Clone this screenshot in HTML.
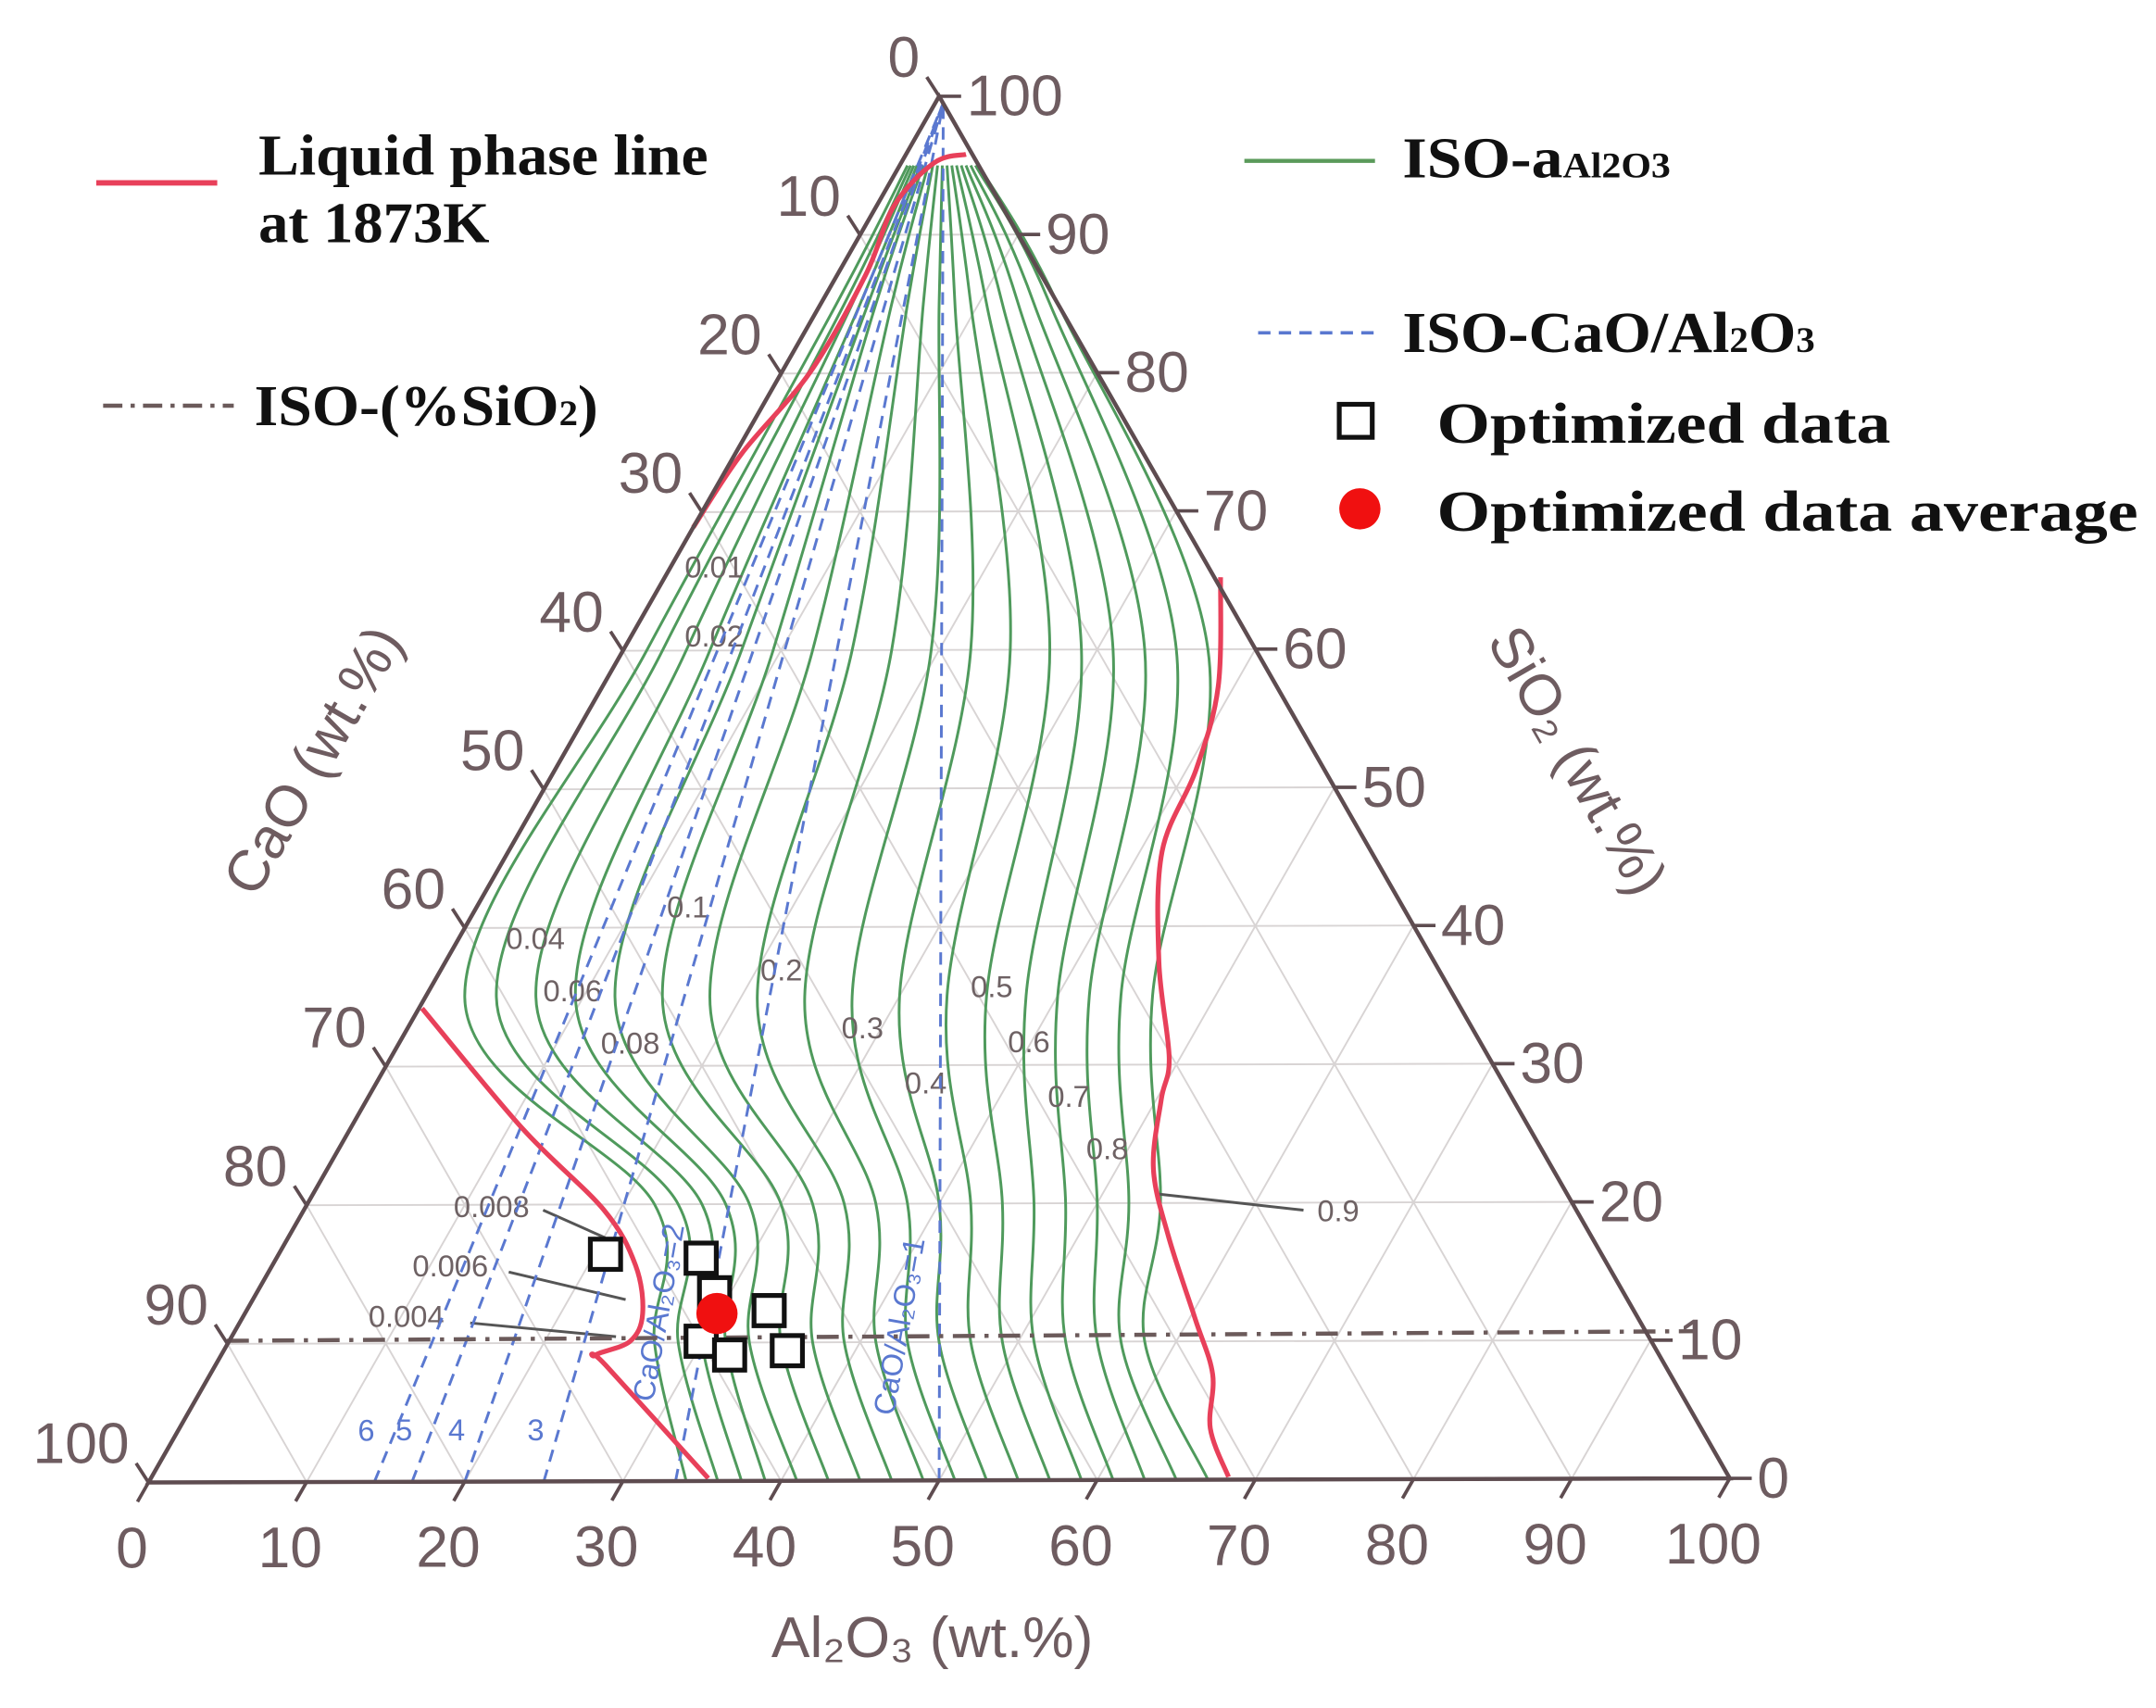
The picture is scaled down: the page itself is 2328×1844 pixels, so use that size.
<!DOCTYPE html>
<html><head><meta charset="utf-8"><style>
html,body{margin:0;padding:0;background:#fff;}
svg{display:block;}
.ax{font-family:"Liberation Sans",sans-serif;fill:#6e5c60;font-size:42px;}
.lg{font-family:"Liberation Serif",serif;font-weight:bold;fill:#111;font-size:42px;}
.cl{font-family:"Liberation Sans",sans-serif;fill:#6e6264;font-size:22px;}
.bl{font-family:"Liberation Sans",sans-serif;fill:#5a78d0;font-size:22px;}
</style></head><body>
<svg id="chart" width="2328" height="1844" viewBox="0 0 1568 1242" preserveAspectRatio="none" xmlns="http://www.w3.org/2000/svg">
<g id="grid"></g>
<g id="green"></g>
<g id="blue"></g>
<g id="red"></g>
<g id="axes"></g>
<g id="pts"></g>
<g id="legend">
  <line x1="70" y1="133" x2="158" y2="133" stroke="#e8405a" stroke-width="4"/>
  <text class="lg" x="188" y="127" textLength="327" lengthAdjust="spacingAndGlyphs">Liquid phase line</text>
  <text class="lg" x="188" y="176" textLength="168" lengthAdjust="spacingAndGlyphs">at 1873K</text>
  <line x1="905" y1="117" x2="1000" y2="117" stroke="#5a9a5a" stroke-width="3"/>
  <text class="lg" x="1020" y="129" textLength="195" lengthAdjust="spacingAndGlyphs">ISO-a<tspan font-size="26">Al2O3</tspan></text>
  <line x1="915" y1="242" x2="1000" y2="242" stroke="#5a78d0" stroke-width="2.5" stroke-dasharray="9 6"/>
  <text class="lg" x="1020" y="256" textLength="300" lengthAdjust="spacingAndGlyphs">ISO-CaO/Al<tspan font-size="26">2</tspan>O<tspan font-size="26">3</tspan></text>
  <line x1="75" y1="295" x2="170" y2="295" stroke="#6b5a5a" stroke-width="3" stroke-dasharray="14 6 3 6"/>
  <text class="lg" x="185" y="309" textLength="250" lengthAdjust="spacingAndGlyphs">ISO-(%SiO<tspan font-size="26">2</tspan>)</text>
  <rect x="974" y="294" width="24" height="24" fill="#fff" stroke="#111" stroke-width="3.5"/>
  <text class="lg" x="1045" y="322" textLength="330" lengthAdjust="spacingAndGlyphs">Optimized data</text>
  <circle cx="989" cy="370" r="15" fill="#f01010"/>
  <text class="lg" x="1045" y="386" textLength="510" lengthAdjust="spacingAndGlyphs">Optimized data average</text>
</g>
</svg>
<script>
const BL=[108,1078], BR=[1258,1075], AP=[683,70];
const dataAl=[20.7,26.9,29.0,33.1,29.9,32.2,35.7];
const dataSi=[16.4,16.1,13.6,12.3,10.1,9.1,9.4];
const avgAl=[29.9], avgSi=[12.1];
const liqTopAl=[0,0.4,1.8,1.8,1.1,2.1,3.8];
const liqTopSi=[68.9,74.2,80.1,87.1,92.1,95.2,95.8];
const liqLeftAl=[0.2,10.9,19.0,23,25.2,25.4,23.7,24.7,35.3];
const liqLeftSi=[34.2,25.5,19.6,15.6,12.1,10.1,9.1,8.4,0.2];
const liqRightAl=[35.2,39,40.6,41.4,45.2,49.3,50.3,52.3,55.7,60.4,63.5,65.3,68.2];
const liqRightSi=[65.2,57.3,51.3,45.4,37.4,30.5,27.5,22.5,17.6,11.6,7.6,3.7,0.2];
const isoLevels=[0,10,20,35,60,85,95];
const isoA0=[34,36,37.5,39,41,43,45,47,49,51,53,55,57,59,61,63,65,67];
const isoA10=[27,28.5,30,31.5,33,35,37,39,41,43,45,47,49,51,53,55,56.5,58];
const isoA20=[22,23.5,25,26.5,28,30,32,34,36,38,40,42,44,46,48,50,52,54];
const isoA35=[2.5,4.5,7,9.5,12,15,18,21,24,27,30,33,35.5,38,40,42,44,46];
const isoA60=[1.5,2.5,4,5.5,7.5,9.5,12,14.5,17,19.5,22,24.5,27,29,31,33,35,37];
const isoA85=[1,1.5,2,2.5,3,3.5,4.5,5.5,6.5,7.5,8.5,9.5,10.5,11.5,12.5,13.5,14.5,15];
const isoA95=[0.5,0.7,0.9,1.1,1.3,1.5,1.8,2.1,2.4,2.7,3.0,3.3,3.6,3.9,4.2,4.5,4.8,5.0];
const ratios=[1,2,3,4,5,6];
const ticks=[0,10,20,30,40,50,60,70,80,90,100];
const NS='http://www.w3.org/2000/svg';
function P(al,si){const a=al/100,s=si/100,c=1-a-s;return [c*BL[0]+a*BR[0]+s*AP[0], c*BL[1]+a*BR[1]+s*AP[1]];}
function mk(tag,attrs,parent){const e=document.createElementNS(NS,tag);for(const k in attrs)e.setAttribute(k,attrs[k]);document.getElementById(parent).appendChild(e);return e;}
function smooth(pts){let d='M'+pts[0][0]+','+pts[0][1];for(let i=0;i<pts.length-1;i++){const p0=pts[i-1]||pts[i],p1=pts[i],p2=pts[i+1],p3=pts[i+2]||p2;
d+=' C'+(p1[0]+(p2[0]-p0[0])/6)+','+(p1[1]+(p2[1]-p0[1])/6)+' '+(p2[0]-(p3[0]-p1[0])/6)+','+(p2[1]-(p3[1]-p1[1])/6)+' '+p2[0]+','+p2[1];}return d;}
for(let v=10;v<100;v+=10){
  let l=mk('line',{},'grid');let p=P(0,v),q=P(100-v,v);
  l.setAttribute('x1',p[0]);l.setAttribute('y1',p[1]);l.setAttribute('x2',q[0]);l.setAttribute('y2',q[1]);l.setAttribute('stroke','#d8d4d4');l.setAttribute('stroke-width','1.3');
  
  
  let l2=mk('line',{},'grid');p=P(v,0);q=P(v,100-v);
  l2.setAttribute('x1',p[0]);l2.setAttribute('y1',p[1]);l2.setAttribute('x2',q[0]);l2.setAttribute('y2',q[1]);l2.setAttribute('stroke','#d8d4d4');l2.setAttribute('stroke-width','1.3');
  
  
  let l3=mk('line',{},'grid');p=P(v,0);q=P(0,v);
  l3.setAttribute('x1',p[0]);l3.setAttribute('y1',p[1]);l3.setAttribute('x2',q[0]);l3.setAttribute('y2',q[1]);l3.setAttribute('stroke','#d8d4d4');l3.setAttribute('stroke-width','1.3');
  
  
}
const isoCols=[isoA0,isoA10,isoA20,isoA35,isoA60,isoA85,isoA95];
for(let i=0;i<isoA0.length;i++){
  const pts=isoLevels.map((s,j)=>P(isoCols[j][i],s));
  const e=mk('path',{d:smooth(pts),fill:'none',stroke:'#4f9a5c','stroke-width':'2'},'green');
  
  
}
ratios.forEach(r=>{const a=100/(1+r);const p=P(a,0),q=P(0,100);
  const e=mk('line',{x1:p[0],y1:p[1],x2:q[0]+3,y2:q[1]+5,stroke:'#5a78d0','stroke-width':'2','stroke-dasharray':'9 6'},'blue');
  
  
  if(r>=3){const t=mk('text',{class:'bl',x:p[0]-12,y:p[1]-30},'blue');t.textContent=r;
    
    }
});
[['CaO/Al\u2082O\u2083=2',475,1020],['CaO/Al\u2082O\u2083=1',650,1030]].forEach(o=>{const t=mk('text',{class:'bl',x:o[1],y:o[2],transform:'rotate(-80 '+o[1]+' '+o[2]+')'},'blue');t.textContent=o[0];
  
  });
{const e=mk('line',{x1:165,y1:975,x2:1232,y2:968,stroke:'#6b5a5a','stroke-width':'3','stroke-dasharray':'16 7 3 7'},'blue');
 
 }
[[liqTopAl,liqTopSi],[liqLeftAl,liqLeftSi],[liqRightAl,liqRightSi]].forEach(c=>{
  const pts=c[0].map((a,i)=>P(a,c[1][i]));
  const e=mk('path',{d:smooth(pts),fill:'none',stroke:'#e8405a','stroke-width':'3.5'},'red');
  
  
});
[['0.01',498,420],['0.02',498,470],['0.04',368,690],['0.06',395,728],['0.08',437,766],['0.1',485,667],['0.2',553,713],['0.3',612,755],['0.4',658,795],['0.5',706,725],['0.6',733,765],['0.7',762,805],['0.8',790,843],['0.9',958,888],['0.008',330,885],['0.006',300,928],['0.004',268,965]].forEach(o=>{
  const t=mk('text',{class:'cl',x:o[1],y:o[2]},'green');t.textContent=o[0];
  
  });
[[395,880,440,900],[370,925,455,945],[342,962,448,972],[948,880,840,868]].forEach(o=>{
  const e=mk('line',{x1:o[0],y1:o[1],x2:o[2],y2:o[3],stroke:'#555','stroke-width':'2'},'green');
  
  });
{const e=mk('path',{d:'M'+BL+' L'+BR+' L'+AP+' Z',fill:'none',stroke:'#5e4c50','stroke-width':'3'},'axes');
 
 }
ticks.forEach((v,i)=>{
  let p=P(v,0);let e=mk('line',{x1:p[0],y1:p[1],x2:p[0]-8,y2:p[1]+14,stroke:'#5e4c50','stroke-width':'2.5'},'axes');
  
  
  let t=mk('text',{class:'ax',x:p[0]-12,y:p[1]+62,'text-anchor':'middle'},'axes');t.textContent=v;
  
  
  p=P(100-v,v);e=mk('line',{x1:p[0],y1:p[1],x2:p[0]+16,y2:p[1],stroke:'#5e4c50','stroke-width':'2.5'},'axes');
  
  
  t=mk('text',{class:'ax',x:p[0]+20,y:p[1]+14},'axes');t.textContent=v;
  
  
  p=P(0,100-v);e=mk('line',{x1:p[0],y1:p[1],x2:p[0]-9,y2:p[1]-14,stroke:'#5e4c50','stroke-width':'2.5'},'axes');
  
  
  t=mk('text',{class:'ax',x:p[0]-14,y:p[1]-14,'text-anchor':'end'},'axes');t.textContent=v;
  
  
});
[['CaO (wt.%)',240,560,-60,'cao-axis-title'],['SiO\u2082 (wt.%)',1135,560,60,'sio2-axis-title'],['Al\u2082O\u2083 (wt.%)',678,1205,0,'al2o3-axis-title']].forEach(o=>{
  const t=mk('text',{class:'ax',x:o[1],y:o[2],'text-anchor':'middle','font-size':'56',transform:'rotate('+o[3]+' '+o[1]+' '+o[2]+')'},'axes');t.textContent=o[0];
  
  });
dataAl.forEach((a,i)=>{const p=P(a,dataSi[i]);
  const e=mk('rect',{x:p[0]-11,y:p[1]-11,width:22,height:22,fill:'#fff',stroke:'#111','stroke-width':'3.5'},'pts');
  
  });
avgAl.forEach((a,i)=>{const p=P(a,avgSi[i]);
  const e=mk('circle',{cx:p[0],cy:p[1],r:15,fill:'#f01010'},'pts');
  
  });
</script>
</body></html>
